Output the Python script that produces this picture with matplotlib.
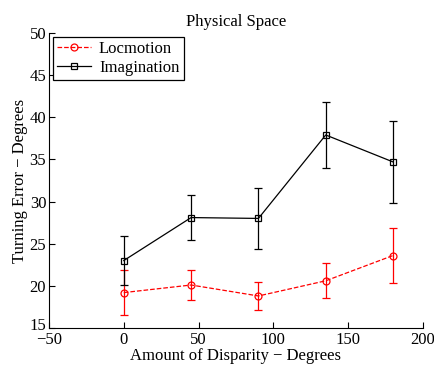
import matplotlib
matplotlib.use("Agg")
import matplotlib.pyplot as plt
import matplotlib.transforms as mtransforms
from matplotlib.lines import Line2D

plt.rcParams['font.family'] = ['Liberation Serif', 'DejaVu Serif']

# disparity angles (degrees)
disparity = [0, 45, 90, 135, 180]

# mean turning error and error bar half-widths
loco_mean = [19.2, 20.1, 18.8, 20.6, 23.6]
loco_err = [2.7, 1.8, 1.65, 2.1, 3.3]
imag_mean = [23.0, 28.1, 28.0, 37.9, 34.7]
imag_err = [2.9, 2.7, 3.6, 3.9, 4.85]

fig = plt.figure(figsize=(4.35, 3.65), dpi=100)
ax = fig.add_axes([0.1126, 0.1014, 0.8598, 0.8082])

loco_style = dict(color='red', ls='--', lw=0.9, marker='o', ms=5,
                  mfc='none', mew=0.9)
imag_style = dict(color='black', ls='-', lw=0.9, marker='s', ms=4.5,
                  mfc='none', mew=0.9)

ax.errorbar(disparity, loco_mean, yerr=loco_err, capsize=3, elinewidth=0.9,
            **loco_style)
ax.errorbar(disparity, imag_mean, yerr=imag_err, capsize=3, elinewidth=0.9,
            **imag_style)

ax.set_xlim(-50, 200)
ax.set_ylim(15, 50)
ax.set_xticks([-50, 0, 50, 100, 150, 200])
ax.set_yticks([15, 20, 25, 30, 35, 40, 45, 50])
ax.set_xticklabels(['\u221250', '0', '50', '100', '150', '200'])
ax.spines['top'].set_visible(False)
ax.spines['right'].set_visible(False)
ax.tick_params(direction='in', length=4, labelsize=12)
ax.tick_params(axis='x', pad=3)
ax.tick_params(axis='y', pad=2)

# lift the bottom y label a little so it clears the -50 below it
lbl = ax.get_yticklabels()[0]
lbl.set_transform(lbl.get_transform() +
                  mtransforms.ScaledTranslation(0, 3 / 72, fig.dpi_scale_trans))

ax.set_title('Physical Space', fontsize=12, pad=5)
ax.set_xlabel('Amount of Disparity \u2212 Degrees', fontsize=12, labelpad=0)
ax.set_ylabel('Turning Error \u2212 Degrees', fontsize=12, labelpad=1)

# legend handles without the error bars
handles = [Line2D([], [], **loco_style), Line2D([], [], **imag_style)]
leg = ax.legend(handles, ['Locmotion', 'Imagination'], loc='upper left',
                fontsize=12, fancybox=False, framealpha=1, edgecolor='black',
                borderaxespad=0.25, handlelength=2.0, handletextpad=0.5,
                borderpad=0.25, labelspacing=0.15)
leg.get_frame().set_linewidth(0.9)

fig.savefig('out.png', dpi=100)
